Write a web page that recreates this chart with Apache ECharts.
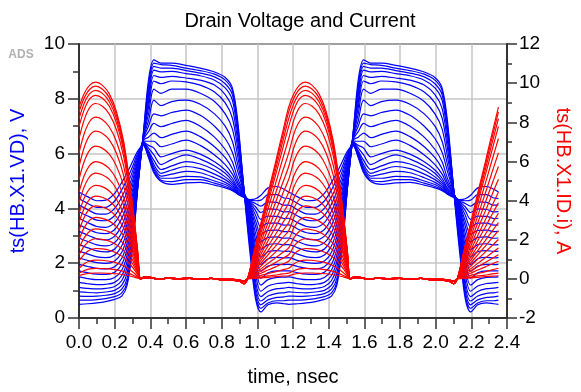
<!DOCTYPE html>
<html>
<head>
<meta charset="utf-8">
<script src="https://cdn.jsdelivr.net/npm/echarts@6/dist/echarts.min.js"></script>
<style>
  html, body { margin: 0; padding: 0; background: #fff; }
  #chart { width: 581px; height: 392px; }
</style>
</head>
<body>
<div id="chart"></div>
<script>
// Drain voltage sweep (left axis, V) sampled over two RF periods, nsec
const tV = [0, 0.05, 0.10, 0.15, 0.20, 0.24, 0.27, 0.30, 0.33, 0.36, 0.39, 0.42, 0.46, 0.52, 0.60, 0.68, 0.76, 0.82, 0.86, 0.89, 0.93, 0.96, 0.99, 1.02, 1.06, 1.11, 1.15,
  1.176, 1.226, 1.276, 1.326, 1.376, 1.416, 1.446, 1.476, 1.506, 1.536, 1.566, 1.596, 1.636, 1.696, 1.776, 1.856, 1.936, 1.996, 2.036, 2.066, 2.106, 2.136, 2.166, 2.196, 2.236, 2.286, 2.326, 2.352];

const vd01 = [4.60, 4.42, 4.28, 4.30, 4.55, 4.95, 5.30, 5.70, 6.10, 6.30, 5.85, 5.30, 4.98, 4.88, 4.93, 4.95, 4.85, 4.75, 4.65, 4.52, 4.38, 4.32, 4.35, 4.48, 4.75, 4.80, 4.70,
  4.60, 4.42, 4.28, 4.30, 4.55, 4.95, 5.30, 5.70, 6.10, 6.30, 5.85, 5.30, 4.98, 4.88, 4.93, 4.95, 4.85, 4.75, 4.65, 4.52, 4.38, 4.32, 4.35, 4.48, 4.75, 4.80, 4.70, 4.60];
const vd02 = [4.36, 4.18, 4.04, 4.04, 4.27, 4.68, 5.07, 5.52, 6.02, 6.32, 5.90, 5.35, 5.03, 4.98, 5.05, 5.05, 4.92, 4.80, 4.68, 4.53, 4.40, 4.30, 4.28, 4.30, 4.50, 4.50, 4.38,
  4.36, 4.18, 4.04, 4.04, 4.27, 4.68, 5.07, 5.52, 6.02, 6.32, 5.90, 5.35, 5.03, 4.98, 5.05, 5.05, 4.92, 4.80, 4.68, 4.53, 4.40, 4.30, 4.28, 4.30, 4.50, 4.50, 4.38, 4.36];
const vd03 = [4.12, 3.95, 3.80, 3.79, 4.00, 4.42, 4.84, 5.35, 5.94, 6.34, 5.95, 5.42, 5.10, 5.10, 5.17, 5.15, 5.00, 4.87, 4.72, 4.55, 4.42, 4.27, 4.18, 4.08, 4.24, 4.22, 4.12,
  4.12, 3.95, 3.80, 3.79, 4.00, 4.42, 4.84, 5.35, 5.94, 6.34, 5.95, 5.42, 5.10, 5.10, 5.17, 5.15, 5.00, 4.87, 4.72, 4.55, 4.42, 4.27, 4.18, 4.08, 4.24, 4.22, 4.12, 4.12];
const vd04 = [3.88, 3.72, 3.57, 3.55, 3.74, 4.16, 4.61, 5.18, 5.86, 6.36, 6.00, 5.50, 5.18, 5.25, 5.35, 5.30, 5.12, 4.95, 4.78, 4.57, 4.43, 4.24, 4.06, 3.85, 3.98, 3.96, 3.87,
  3.88, 3.72, 3.57, 3.55, 3.74, 4.16, 4.61, 5.18, 5.86, 6.36, 6.00, 5.50, 5.18, 5.25, 5.35, 5.30, 5.12, 4.95, 4.78, 4.57, 4.43, 4.24, 4.06, 3.85, 3.98, 3.96, 3.87, 3.88];
const vd05 = [3.64, 3.48, 3.34, 3.31, 3.48, 3.90, 4.38, 5.00, 5.78, 6.38, 6.05, 5.60, 5.28, 5.40, 5.53, 5.45, 5.25, 5.05, 4.85, 4.60, 4.45, 4.20, 3.92, 3.60, 3.72, 3.71, 3.63,
  3.64, 3.48, 3.34, 3.31, 3.48, 3.90, 4.38, 5.00, 5.78, 6.38, 6.05, 5.60, 5.28, 5.40, 5.53, 5.45, 5.25, 5.05, 4.85, 4.60, 4.45, 4.20, 3.92, 3.60, 3.72, 3.71, 3.63, 3.64];
const vd06 = [3.40, 3.25, 3.11, 3.08, 3.23, 3.64, 4.15, 4.83, 5.70, 6.40, 6.10, 5.75, 5.42, 5.55, 5.71, 5.62, 5.40, 5.15, 4.92, 4.65, 4.46, 4.15, 3.75, 3.32, 3.46, 3.46, 3.39,
  3.40, 3.25, 3.11, 3.08, 3.23, 3.64, 4.15, 4.83, 5.70, 6.40, 6.10, 5.75, 5.42, 5.55, 5.71, 5.62, 5.40, 5.15, 4.92, 4.65, 4.46, 4.15, 3.75, 3.32, 3.46, 3.46, 3.39, 3.40];
const vd07 = [3.16, 3.02, 2.89, 2.85, 2.99, 3.38, 3.91, 4.65, 5.62, 6.42, 6.20, 5.95, 5.60, 5.78, 5.95, 5.80, 5.55, 5.28, 5.00, 4.70, 4.47, 4.10, 3.55, 3.05, 3.20, 3.21, 3.15,
  3.16, 3.02, 2.89, 2.85, 2.99, 3.38, 3.91, 4.65, 5.62, 6.42, 6.20, 5.95, 5.60, 5.78, 5.95, 5.80, 5.55, 5.28, 5.00, 4.70, 4.47, 4.10, 3.55, 3.05, 3.20, 3.21, 3.15, 3.16];
const vd08 = [2.92, 2.79, 2.67, 2.63, 2.75, 3.12, 3.67, 4.48, 5.54, 6.44, 6.30, 6.20, 5.88, 6.00, 6.13, 5.98, 5.70, 5.40, 5.10, 4.75, 4.48, 4.05, 3.35, 2.78, 2.94, 2.96, 2.91,
  2.92, 2.79, 2.67, 2.63, 2.75, 3.12, 3.67, 4.48, 5.54, 6.44, 6.30, 6.20, 5.88, 6.00, 6.13, 5.98, 5.70, 5.40, 5.10, 4.75, 4.48, 4.05, 3.35, 2.78, 2.94, 2.96, 2.91, 2.92];
const vd09 = [2.68, 2.56, 2.45, 2.41, 2.52, 2.88, 3.44, 4.30, 5.46, 6.46, 6.45, 6.45, 6.25, 6.35, 6.49, 6.30, 5.95, 5.60, 5.25, 4.85, 4.48, 3.98, 3.10, 2.50, 2.68, 2.71, 2.67,
  2.68, 2.56, 2.45, 2.41, 2.52, 2.88, 3.44, 4.30, 5.46, 6.46, 6.45, 6.45, 6.25, 6.35, 6.49, 6.30, 5.95, 5.60, 5.25, 4.85, 4.48, 3.98, 3.10, 2.50, 2.68, 2.71, 2.67, 2.68];
const vd10 = [2.44, 2.33, 2.23, 2.20, 2.30, 2.64, 3.20, 4.12, 5.38, 6.48, 6.60, 6.75, 6.58, 6.70, 6.82, 6.62, 6.25, 5.85, 5.45, 4.95, 4.48, 3.90, 2.85, 2.22, 2.42, 2.46, 2.43,
  2.44, 2.33, 2.23, 2.20, 2.30, 2.64, 3.20, 4.12, 5.38, 6.48, 6.60, 6.75, 6.58, 6.70, 6.82, 6.62, 6.25, 5.85, 5.45, 4.95, 4.48, 3.90, 2.85, 2.22, 2.42, 2.46, 2.43, 2.44];
const vd11 = [2.20, 2.10, 2.02, 1.99, 2.08, 2.40, 2.97, 3.94, 5.30, 6.50, 6.80, 7.10, 6.98, 7.10, 7.21, 7.00, 6.60, 6.15, 5.70, 5.10, 4.48, 3.82, 2.60, 1.95, 2.16, 2.21, 2.19,
  2.20, 2.10, 2.02, 1.99, 2.08, 2.40, 2.97, 3.94, 5.30, 6.50, 6.80, 7.10, 6.98, 7.10, 7.21, 7.00, 6.60, 6.15, 5.70, 5.10, 4.48, 3.82, 2.60, 1.95, 2.16, 2.21, 2.19, 2.20];
const vd12 = [1.96, 1.88, 1.81, 1.79, 1.87, 2.18, 2.74, 3.76, 5.22, 6.52, 7.00, 7.45, 7.38, 7.50, 7.59, 7.40, 7.00, 6.55, 6.05, 5.35, 4.47, 3.72, 2.35, 1.70, 1.90, 1.96, 1.95,
  1.96, 1.88, 1.81, 1.79, 1.87, 2.18, 2.74, 3.76, 5.22, 6.52, 7.00, 7.45, 7.38, 7.50, 7.59, 7.40, 7.00, 6.55, 6.05, 5.35, 4.47, 3.72, 2.35, 1.70, 1.90, 1.96, 1.95, 1.96];
const vd13 = [1.72, 1.65, 1.60, 1.59, 1.67, 1.96, 2.52, 3.58, 5.14, 6.54, 7.20, 7.95, 7.75, 7.90, 7.95, 7.80, 7.45, 7.00, 6.45, 5.60, 4.46, 3.60, 2.10, 1.45, 1.65, 1.72, 1.72,
  1.72, 1.65, 1.60, 1.59, 1.67, 1.96, 2.52, 3.58, 5.14, 6.54, 7.20, 7.95, 7.75, 7.90, 7.95, 7.80, 7.45, 7.00, 6.45, 5.60, 4.46, 3.60, 2.10, 1.45, 1.65, 1.72, 1.72, 1.72];
const vd14 = [1.50, 1.44, 1.40, 1.40, 1.48, 1.75, 2.30, 3.40, 5.06, 6.56, 7.45, 8.35, 8.20, 8.35, 8.35, 8.20, 7.90, 7.45, 6.90, 5.90, 4.45, 3.45, 1.85, 1.20, 1.40, 1.48, 1.49,
  1.50, 1.44, 1.40, 1.40, 1.48, 1.75, 2.30, 3.40, 5.06, 6.56, 7.45, 8.35, 8.20, 8.35, 8.35, 8.20, 7.90, 7.45, 6.90, 5.90, 4.45, 3.45, 1.85, 1.20, 1.40, 1.48, 1.49, 1.50];
const vd15 = [1.30, 1.25, 1.22, 1.23, 1.30, 1.55, 2.08, 3.22, 4.98, 6.58, 7.70, 8.65, 8.55, 8.65, 8.62, 8.50, 8.25, 7.85, 7.30, 6.20, 4.44, 3.30, 1.60, 0.98, 1.17, 1.26, 1.28,
  1.30, 1.25, 1.22, 1.23, 1.30, 1.55, 2.08, 3.22, 4.98, 6.58, 7.70, 8.65, 8.55, 8.65, 8.62, 8.50, 8.25, 7.85, 7.30, 6.20, 4.44, 3.30, 1.60, 0.98, 1.17, 1.26, 1.28, 1.30];
const vd16 = [1.12, 1.08, 1.06, 1.08, 1.15, 1.37, 1.86, 3.05, 4.92, 6.60, 7.90, 8.85, 8.78, 8.82, 8.76, 8.68, 8.50, 8.15, 7.65, 6.45, 4.42, 3.10, 1.35, 0.78, 0.97, 1.07, 1.09,
  1.12, 1.08, 1.06, 1.08, 1.15, 1.37, 1.86, 3.05, 4.92, 6.60, 7.90, 8.85, 8.78, 8.82, 8.76, 8.68, 8.50, 8.15, 7.65, 6.45, 4.42, 3.10, 1.35, 0.78, 0.97, 1.07, 1.09, 1.12];
const vd17 = [0.95, 0.93, 0.92, 0.95, 1.01, 1.20, 1.65, 2.90, 4.86, 6.62, 8.10, 9.05, 8.98, 9.00, 8.92, 8.84, 8.68, 8.40, 7.95, 6.70, 4.40, 2.90, 1.15, 0.62, 0.80, 0.90, 0.92,
  0.95, 0.93, 0.92, 0.95, 1.01, 1.20, 1.65, 2.90, 4.86, 6.62, 8.10, 9.05, 8.98, 9.00, 8.92, 8.84, 8.68, 8.40, 7.95, 6.70, 4.40, 2.90, 1.15, 0.62, 0.80, 0.90, 0.92, 0.95];
const vd18 = [0.80, 0.79, 0.80, 0.83, 0.89, 1.05, 1.45, 2.75, 4.82, 6.64, 8.30, 9.18, 9.12, 9.12, 9.03, 8.94, 8.80, 8.55, 8.15, 6.90, 4.38, 2.70, 0.98, 0.48, 0.66, 0.75, 0.77,
  0.80, 0.79, 0.80, 0.83, 0.89, 1.05, 1.45, 2.75, 4.82, 6.64, 8.30, 9.18, 9.12, 9.12, 9.03, 8.94, 8.80, 8.55, 8.15, 6.90, 4.38, 2.70, 0.98, 0.48, 0.66, 0.75, 0.77, 0.80];
const vd19 = [0.65, 0.65, 0.67, 0.71, 0.78, 0.92, 1.30, 2.65, 4.80, 6.66, 8.50, 9.30, 9.25, 9.22, 9.12, 9.03, 8.90, 8.68, 8.30, 7.05, 4.35, 2.50, 0.82, 0.35, 0.55, 0.63, 0.63,
  0.65, 0.65, 0.67, 0.71, 0.78, 0.92, 1.30, 2.65, 4.80, 6.66, 8.50, 9.30, 9.25, 9.22, 9.12, 9.03, 8.90, 8.68, 8.30, 7.05, 4.35, 2.50, 0.82, 0.35, 0.55, 0.63, 0.63, 0.65];
const vd20 = [0.50, 0.52, 0.55, 0.60, 0.68, 0.80, 1.20, 2.55, 4.78, 6.68, 8.70, 9.42, 9.30, 9.30, 9.22, 9.12, 8.98, 8.78, 8.40, 7.20, 4.30, 2.30, 0.70, 0.22, 0.48, 0.55, 0.52,
  0.50, 0.52, 0.55, 0.60, 0.68, 0.80, 1.20, 2.55, 4.78, 6.68, 8.70, 9.42, 9.30, 9.30, 9.22, 9.12, 8.98, 8.78, 8.40, 7.20, 4.30, 2.30, 0.70, 0.22, 0.48, 0.55, 0.52, 0.50];

// Drain current sweep (right axis, A)
const tI = [0, 0.03, 0.06, 0.093, 0.13, 0.17, 0.21, 0.25, 0.28, 0.31, 0.33, 0.345, 0.37, 0.40, 0.45, 0.50, 0.56, 0.62, 0.68, 0.74, 0.80, 0.86, 0.90, 0.925, 0.945, 0.98, 1.02, 1.06, 1.10, 1.14,
  1.176, 1.206, 1.236, 1.269, 1.306, 1.346, 1.386, 1.426, 1.456, 1.486, 1.506, 1.521, 1.546, 1.576, 1.626, 1.676, 1.736, 1.796, 1.856, 1.916, 1.976, 2.036, 2.076, 2.101, 2.121, 2.156, 2.196, 2.236, 2.276, 2.316, 2.352];

const id01 = [0.16, 0.24, 0.28, 0.30, 0.30, 0.28, 0.26, 0.21, 0.16, 0.09, 0.04, 0, 0.06, 0.04, -0.01, 0.03, 0, 0.02, -0.02, 0.02, -0.03, -0.03, -0.06, -0.12, 0, 0.02, 0.05, 0.08, 0.11, 0.14,
  0.16, 0.24, 0.28, 0.30, 0.30, 0.28, 0.26, 0.21, 0.16, 0.09, 0.04, 0, 0.06, 0.04, -0.01, 0.03, 0, 0.02, -0.02, 0.02, -0.03, -0.03, -0.06, -0.12, 0, 0.02, 0.05, 0.08, 0.11, 0.14, 0.16];
const id02 = [0.29, 0.43, 0.51, 0.54, 0.53, 0.51, 0.46, 0.38, 0.28, 0.16, 0.07, 0, 0.06, 0.04, -0.01, 0.03, 0, 0.02, -0.02, 0.02, -0.03, -0.03, -0.06, -0.12, 0, 0.04, 0.09, 0.15, 0.19, 0.25,
  0.29, 0.43, 0.51, 0.54, 0.53, 0.51, 0.46, 0.38, 0.28, 0.16, 0.07, 0, 0.06, 0.04, -0.01, 0.03, 0, 0.02, -0.02, 0.02, -0.03, -0.03, -0.06, -0.12, 0, 0.04, 0.09, 0.15, 0.19, 0.25, 0.29];
const id03 = [0.54, 0.77, 0.91, 0.96, 0.95, 0.90, 0.82, 0.67, 0.50, 0.29, 0.12, 0, 0.06, 0.04, -0.01, 0.03, 0, 0.02, -0.02, 0.02, -0.03, -0.03, -0.06, -0.12, 0, 0.08, 0.18, 0.27, 0.36, 0.46,
  0.54, 0.77, 0.91, 0.96, 0.95, 0.90, 0.82, 0.67, 0.50, 0.29, 0.12, 0, 0.06, 0.04, -0.01, 0.03, 0, 0.02, -0.02, 0.02, -0.03, -0.03, -0.06, -0.12, 0, 0.08, 0.18, 0.27, 0.36, 0.46, 0.54];
const id04 = [0.90, 1.26, 1.47, 1.55, 1.53, 1.46, 1.32, 1.09, 0.81, 0.47, 0.20, 0, 0.06, 0.04, -0.01, 0.03, 0, 0.02, -0.02, 0.02, -0.03, -0.03, -0.06, -0.12, 0, 0.14, 0.29, 0.45, 0.60, 0.76,
  0.90, 1.26, 1.47, 1.55, 1.53, 1.46, 1.32, 1.09, 0.81, 0.47, 0.20, 0, 0.06, 0.04, -0.01, 0.03, 0, 0.02, -0.02, 0.02, -0.03, -0.03, -0.06, -0.12, 0, 0.14, 0.29, 0.45, 0.60, 0.76, 0.90];
const id05 = [1.23, 1.68, 1.95, 2.05, 2.02, 1.93, 1.74, 1.44, 1.07, 0.62, 0.27, 0, 0.06, 0.04, -0.01, 0.03, 0, 0.02, -0.02, 0.02, -0.03, -0.03, -0.06, -0.12, 0, 0.19, 0.40, 0.62, 0.82, 1.04,
  1.23, 1.68, 1.95, 2.05, 2.02, 1.93, 1.74, 1.44, 1.07, 0.62, 0.27, 0, 0.06, 0.04, -0.01, 0.03, 0, 0.02, -0.02, 0.02, -0.03, -0.03, -0.06, -0.12, 0, 0.19, 0.40, 0.62, 0.82, 1.04, 1.23];
const id06 = [1.58, 2.11, 2.43, 2.55, 2.51, 2.40, 2.17, 1.79, 1.33, 0.77, 0.33, 0, 0.06, 0.04, -0.01, 0.03, 0, 0.02, -0.02, 0.02, -0.03, -0.03, -0.06, -0.12, 0, 0.24, 0.51, 0.79, 1.06, 1.33,
  1.58, 2.11, 2.43, 2.55, 2.51, 2.40, 2.17, 1.79, 1.33, 0.77, 0.33, 0, 0.06, 0.04, -0.01, 0.03, 0, 0.02, -0.02, 0.02, -0.03, -0.03, -0.06, -0.12, 0, 0.24, 0.51, 0.79, 1.06, 1.33, 1.58];
const id07 = [2.01, 2.63, 3.00, 3.14, 3.09, 2.95, 2.67, 2.20, 1.63, 0.94, 0.41, 0, 0.06, 0.04, -0.01, 0.03, 0, 0.02, -0.02, 0.02, -0.03, -0.03, -0.06, -0.12, 0, 0.31, 0.65, 1.01, 1.35, 1.70,
  2.01, 2.63, 3.00, 3.14, 3.09, 2.95, 2.67, 2.20, 1.63, 0.94, 0.41, 0, 0.06, 0.04, -0.01, 0.03, 0, 0.02, -0.02, 0.02, -0.03, -0.03, -0.06, -0.12, 0, 0.31, 0.65, 1.01, 1.35, 1.70, 2.01];
const id08 = [2.46, 3.16, 3.58, 3.73, 3.67, 3.51, 3.17, 2.61, 1.94, 1.12, 0.48, 0, 0.06, 0.04, -0.01, 0.03, 0, 0.02, -0.02, 0.02, -0.03, -0.03, -0.06, -0.12, 0, 0.37, 0.80, 1.23, 1.65, 2.08,
  2.46, 3.16, 3.58, 3.73, 3.67, 3.51, 3.17, 2.61, 1.94, 1.12, 0.48, 0, 0.06, 0.04, -0.01, 0.03, 0, 0.02, -0.02, 0.02, -0.03, -0.03, -0.06, -0.12, 0, 0.37, 0.80, 1.23, 1.65, 2.08, 2.46];
const id09 = [2.88, 3.62, 4.07, 4.23, 4.17, 3.98, 3.60, 2.96, 2.20, 1.27, 0.55, 0, 0.06, 0.04, -0.01, 0.03, 0, 0.02, -0.02, 0.02, -0.03, -0.03, -0.06, -0.12, 0, 0.44, 0.94, 1.44, 1.93, 2.43,
  2.88, 3.62, 4.07, 4.23, 4.17, 3.98, 3.60, 2.96, 2.20, 1.27, 0.55, 0, 0.06, 0.04, -0.01, 0.03, 0, 0.02, -0.02, 0.02, -0.03, -0.03, -0.06, -0.12, 0, 0.44, 0.94, 1.44, 1.93, 2.43, 2.88];
const id10 = [3.35, 4.14, 4.61, 4.78, 4.71, 4.49, 4.06, 3.35, 2.49, 1.43, 0.62, 0, 0.06, 0.04, -0.01, 0.03, 0, 0.02, -0.02, 0.02, -0.03, -0.03, -0.06, -0.12, 0, 0.51, 1.09, 1.68, 2.24, 2.83,
  3.35, 4.14, 4.61, 4.78, 4.71, 4.49, 4.06, 3.35, 2.49, 1.43, 0.62, 0, 0.06, 0.04, -0.01, 0.03, 0, 0.02, -0.02, 0.02, -0.03, -0.03, -0.06, -0.12, 0, 0.51, 1.09, 1.68, 2.24, 2.83, 3.35];
const id11 = [3.89, 4.72, 5.22, 5.40, 5.32, 5.08, 4.59, 3.78, 2.81, 1.62, 0.70, 0, 0.12, 0.08, -0.02, 0.05, 0, 0.04, -0.03, 0.03, -0.05, -0.06, -0.12, -0.25, 0, 0.59, 1.26, 1.95, 2.61, 3.29,
  3.89, 4.72, 5.22, 5.40, 5.32, 5.08, 4.59, 3.78, 2.81, 1.62, 0.70, 0, 0.12, 0.08, -0.02, 0.05, 0, 0.04, -0.03, 0.03, -0.05, -0.06, -0.12, -0.25, 0, 0.59, 1.26, 1.95, 2.61, 3.29, 3.89];
const id12 = [4.43, 5.29, 5.80, 5.99, 5.90, 5.63, 5.09, 4.19, 3.11, 1.80, 0.78, 0, 0.12, 0.08, -0.02, 0.05, 0, 0.04, -0.03, 0.03, -0.05, -0.06, -0.12, -0.25, 0, 0.67, 1.44, 2.22, 2.97, 3.74,
  4.43, 5.29, 5.80, 5.99, 5.90, 5.63, 5.09, 4.19, 3.11, 1.80, 0.78, 0, 0.12, 0.08, -0.02, 0.05, 0, 0.04, -0.03, 0.03, -0.05, -0.06, -0.12, -0.25, 0, 0.67, 1.44, 2.22, 2.97, 3.74, 4.43];
const id13 = [5.09, 6.02, 6.58, 6.78, 6.68, 6.37, 5.76, 4.75, 3.53, 2.03, 0.88, 0, 0.12, 0.08, -0.02, 0.05, 0, 0.04, -0.03, 0.03, -0.05, -0.06, -0.12, -0.25, 0, 0.77, 1.65, 2.55, 3.41, 4.30,
  5.09, 6.02, 6.58, 6.78, 6.68, 6.37, 5.76, 4.75, 3.53, 2.03, 0.88, 0, 0.12, 0.08, -0.02, 0.05, 0, 0.04, -0.03, 0.03, -0.05, -0.06, -0.12, -0.25, 0, 0.77, 1.65, 2.55, 3.41, 4.30, 5.09];
const id14 = [5.74, 6.74, 7.33, 7.55, 7.44, 7.10, 6.42, 5.29, 3.93, 2.27, 0.98, 0, 0.12, 0.08, -0.02, 0.05, 0, 0.04, -0.03, 0.03, -0.05, -0.06, -0.12, -0.25, 0, 0.87, 1.87, 2.87, 3.85, 4.85,
  5.74, 6.74, 7.33, 7.55, 7.44, 7.10, 6.42, 5.29, 3.93, 2.27, 0.98, 0, 0.12, 0.08, -0.02, 0.05, 0, 0.04, -0.03, 0.03, -0.05, -0.06, -0.12, -0.25, 0, 0.87, 1.87, 2.87, 3.85, 4.85, 5.74];
const id15 = [6.44, 7.44, 8.04, 8.26, 8.14, 7.76, 7.02, 5.78, 4.30, 2.48, 1.07, 0, 0.12, 0.08, -0.02, 0.05, 0, 0.04, -0.03, 0.03, -0.05, -0.06, -0.12, -0.25, 0, 0.98, 2.09, 3.22, 4.31, 5.44,
  6.44, 7.44, 8.04, 8.26, 8.14, 7.76, 7.02, 5.78, 4.30, 2.48, 1.07, 0, 0.12, 0.08, -0.02, 0.05, 0, 0.04, -0.03, 0.03, -0.05, -0.06, -0.12, -0.25, 0, 0.98, 2.09, 3.22, 4.31, 5.44, 6.44];
const id16 = [7.17, 8.15, 8.75, 8.96, 8.83, 8.42, 7.62, 6.27, 4.66, 2.69, 1.16, 0, 0.12, 0.08, -0.02, 0.05, 0, 0.04, -0.03, 0.03, -0.05, -0.06, -0.12, -0.25, 0, 1.09, 2.33, 3.59, 4.80, 6.06,
  7.17, 8.15, 8.75, 8.96, 8.83, 8.42, 7.62, 6.27, 4.66, 2.69, 1.16, 0, 0.12, 0.08, -0.02, 0.05, 0, 0.04, -0.03, 0.03, -0.05, -0.06, -0.12, -0.25, 0, 1.09, 2.33, 3.59, 4.80, 6.06, 7.17];
const id17 = [7.79, 8.66, 9.19, 9.38, 9.24, 8.82, 7.97, 6.57, 4.88, 2.81, 1.22, 0, 0.12, 0.08, -0.02, 0.05, 0, 0.04, -0.03, 0.03, -0.05, -0.06, -0.12, -0.25, 0, 1.18, 2.53, 3.90, 5.22, 6.58,
  7.79, 8.66, 9.19, 9.38, 9.24, 8.82, 7.97, 6.57, 4.88, 2.81, 1.22, 0, 0.12, 0.08, -0.02, 0.05, 0, 0.04, -0.03, 0.03, -0.05, -0.06, -0.12, -0.25, 0, 1.18, 2.53, 3.90, 5.22, 6.58, 7.79];
const id18 = [8.19, 8.98, 9.46, 9.63, 9.49, 9.05, 8.19, 6.74, 5.01, 2.89, 1.25, 0, 0.12, 0.08, -0.02, 0.05, 0, 0.04, -0.03, 0.03, -0.05, -0.06, -0.12, -0.25, 0, 1.24, 2.66, 4.10, 5.49, 6.92,
  8.19, 8.98, 9.46, 9.63, 9.49, 9.05, 8.19, 6.74, 5.01, 2.89, 1.25, 0, 0.12, 0.08, -0.02, 0.05, 0, 0.04, -0.03, 0.03, -0.05, -0.06, -0.12, -0.25, 0, 1.24, 2.66, 4.10, 5.49, 6.92, 8.19];
const id19 = [8.53, 9.26, 9.69, 9.85, 9.70, 9.26, 8.37, 6.90, 5.12, 2.96, 1.28, 0, 0.12, 0.08, -0.02, 0.05, 0, 0.04, -0.03, 0.03, -0.05, -0.06, -0.12, -0.25, 0, 1.30, 2.77, 4.27, 5.72, 7.20,
  8.53, 9.26, 9.69, 9.85, 9.70, 9.26, 8.37, 6.90, 5.12, 2.96, 1.28, 0, 0.12, 0.08, -0.02, 0.05, 0, 0.04, -0.03, 0.03, -0.05, -0.06, -0.12, -0.25, 0, 1.30, 2.77, 4.27, 5.72, 7.20, 8.53];
const id20 = [8.78, 9.48, 9.90, 10.05, 9.90, 9.45, 8.54, 7.04, 5.23, 3.02, 1.31, 0, 0.12, 0.08, -0.02, 0.05, 0, 0.04, -0.03, 0.03, -0.05, -0.06, -0.12, -0.25, 0, 1.33, 2.85, 4.39, 5.88, 7.42,
  8.78, 9.48, 9.90, 10.05, 9.90, 9.45, 8.54, 7.04, 5.23, 3.02, 1.31, 0, 0.12, 0.08, -0.02, 0.05, 0, 0.04, -0.03, 0.03, -0.05, -0.06, -0.12, -0.25, 0, 1.33, 2.85, 4.39, 5.88, 7.42, 8.78];

const voltageCurves = [vd01, vd02, vd03, vd04, vd05, vd06, vd07, vd08, vd09, vd10, vd11, vd12, vd13, vd14, vd15, vd16, vd17, vd18, vd19, vd20];
const currentCurves = [id01, id02, id03, id04, id05, id06, id07, id08, id09, id10, id11, id12, id13, id14, id15, id16, id17, id18, id19, id20];

const xTicks = { min: 0, max: 2.4, step: 0.2 };
const vTicks = { min: 0, max: 10, step: 2 };
const iTicks = { min: -2, max: 12, step: 2 };

const FONT = 'Liberation Sans, Arial, Helvetica, sans-serif';
const BLUE = '#0000ff';
const RED = '#ff0000';
const AXIS = '#333333';
const GRID = '#c6c6c6';

const chart = echarts.init(document.getElementById('chart'), null, { renderer: 'canvas' });

function lineSeries(times, values, axisIndex, color) {
  return {
    type: 'line',
    xAxisIndex: 0,
    yAxisIndex: axisIndex,
    data: times.map((t, i) => [t, values[i]]),
    showSymbol: false,
    symbol: 'none',
    smooth: 0.3,
    silent: true,
    lineStyle: { color: color, width: 1.2 },
    z: axisIndex === 0 ? 2 : 3
  };
}

const series = [];
voltageCurves.forEach(v => series.push(lineSeries(tV, v, 0, BLUE)));
currentCurves.forEach(c => series.push(lineSeries(tI, c, 1, RED)));

const tickStyle = { color: AXIS, width: 1.5 };

chart.setOption({
  animation: false,
  textStyle: { fontFamily: FONT },
  grid: {
    left: 77, right: 65, top: 44, bottom: 69.5,
    show: true, borderColor: AXIS, borderWidth: 2, backgroundColor: 'transparent'
  },
  graphic: [
    {
      type: 'text', x: 300, y: 21,
      style: { text: 'Drain Voltage and Current', font: '20px ' + FONT, fill: '#000', align: 'center', verticalAlign: 'middle' }
    },
    {
      type: 'text', x: 21, y: 55,
      style: { text: 'ADS', font: 'bold 12px ' + FONT, fill: '#b0b0b0', align: 'center', verticalAlign: 'middle' }
    }
  ],
  xAxis: {
    type: 'value', min: xTicks.min, max: xTicks.max, interval: xTicks.step,
    name: 'time, nsec', nameLocation: 'middle', nameGap: 49,
    nameTextStyle: { fontSize: 20, color: '#000', fontFamily: FONT },
    axisLine: { show: true, onZero: false, lineStyle: { color: AXIS, width: 2 } },
    axisTick: { show: true, inside: false, length: 11, lineStyle: tickStyle },
    minorTick: { show: true, splitNumber: 2, length: 6, lineStyle: tickStyle },
    axisLabel: { fontSize: 19, color: '#000', margin: 15, showMinLabel: true, showMaxLabel: true,
      formatter: v => v.toFixed(1) },
    splitLine: { show: true, lineStyle: { color: GRID, width: 1.5 } }
  },
  yAxis: [
    {
      type: 'value', position: 'left', min: vTicks.min, max: vTicks.max, interval: vTicks.step,
      name: 'ts(HB.X1.VD), V', nameLocation: 'middle', nameGap: 51,
      nameTextStyle: { fontSize: 20, color: BLUE, fontFamily: FONT },
      axisLine: { show: true, onZero: false, lineStyle: { color: AXIS, width: 2 } },
      axisTick: { show: true, inside: false, length: 11, lineStyle: tickStyle },
      minorTick: { show: true, splitNumber: 2, length: 6, lineStyle: tickStyle },
      axisLabel: { fontSize: 19, color: '#000', margin: 14 },
      splitLine: { show: true, lineStyle: { color: GRID, width: 1.5 } }
    },
    {
      type: 'value', position: 'right', min: iTicks.min, max: iTicks.max, interval: iTicks.step,
      name: 'ts(HB.X1.ID.i), A', nameLocation: 'middle', nameGap: 46, nameRotate: -90,
      nameTextStyle: { fontSize: 20, color: RED, fontFamily: FONT },
      axisLine: { show: true, onZero: false, lineStyle: { color: AXIS, width: 2 } },
      axisTick: { show: true, inside: false, length: 10, lineStyle: tickStyle },
      minorTick: { show: true, splitNumber: 2, length: 5, lineStyle: tickStyle },
      axisLabel: { fontSize: 19, color: '#000', margin: 12 },
      splitLine: { show: false }
    }
  ],
  series: series
});
</script>
</body>
</html>
